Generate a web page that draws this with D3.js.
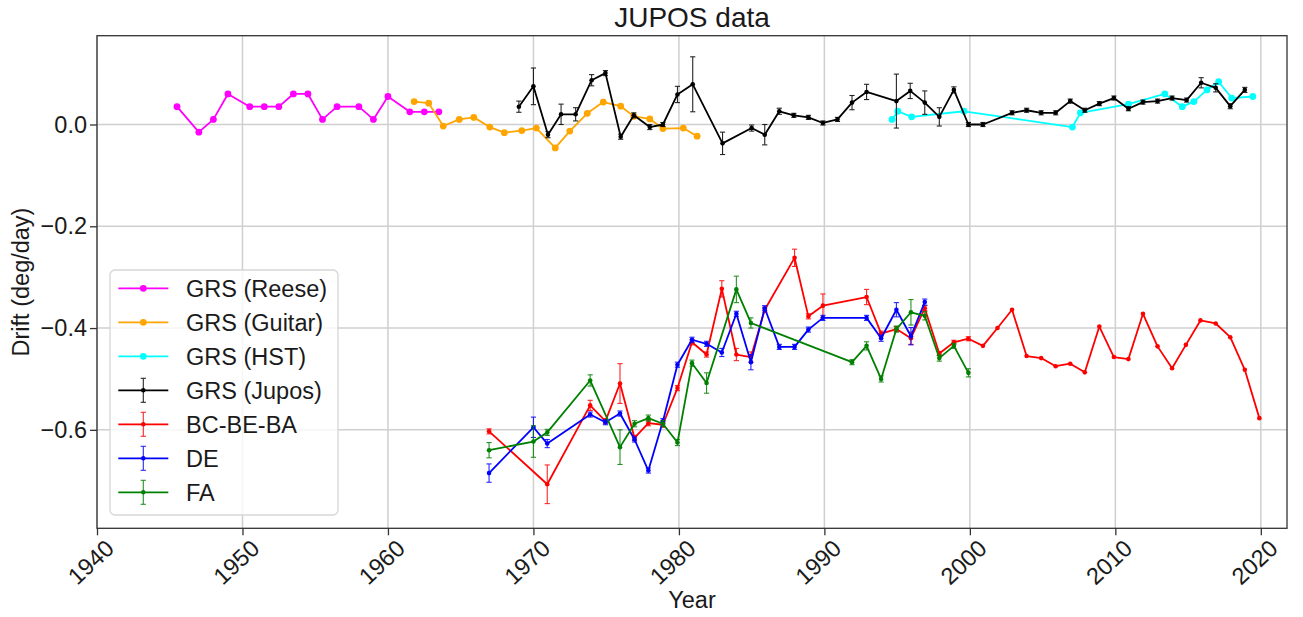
<!DOCTYPE html>
<html>
<head>
<meta charset="utf-8">
<script src="https://cdn.jsdelivr.net/npm/d3@7"></script>
<style>
  html, body { margin: 0; padding: 0; background: #fff; }
  svg text { font-family: "Liberation Sans", Arial, Helvetica, sans-serif; fill: #1a1a1a; }
</style>
</head>
<body>
<svg id="chart" width="1303" height="617"></svg>
<script>
// ---- Data: Great Red Spot and belt-feature drift rates (deg/day) ----
const reeseYears = [1945.5,1947,1948,1949,1950.5,1951.5,1952.5,1953.5,1954.5,1955.5,1956.5,1958,1959,1960,1961.5,1962.5,1963.5];
const reeseDrift = [0.035,-0.015,0.01,0.06,0.035,0.035,0.035,0.06,0.06,0.01,0.035,0.035,0.01,0.055,0.025,0.025,0.025];

const guitarYears = [1961.8,1962.8,1963.8,1964.9,1965.9,1967,1968,1969.2,1970.2,1971.5,1972.5,1973.7,1974.8,1976,1976.9,1978,1978.9,1980.3,1981.25];
const guitarDrift = [0.045,0.042,-0.003,0.01,0.014,-0.005,-0.016,-0.012,-0.007,-0.046,-0.013,0.022,0.044,0.036,0.016,0.011,-0.008,-0.007,-0.023];

const hstYears = [1994.65,1995.05,1996,1999.6,2007.05,2007.6,2010.9,2013.4,2014.6,2015.4,2016.3,2017.1,2018,2019.45];
const hstDrift = [0.010,0.026,0.015,0.026,-0.005,0.023,0.040,0.060,0.035,0.045,0.068,0.084,0.052,0.055];

const juposYears = [1969,1970,1971,1971.9,1972.9,1974,1974.95,1976,1976.9,1978,1978.9,1979.9,1980.95,1983,1985,1985.9,1986.9,1987.9,1988.9,1989.9,1990.9,1991.9,1992.9,1994.95,1995.9,1996.9,1997.9,1998.9,1999.9,2000.9,2002.9,2003.9,2004.9,2005.9,2006.9,2007.9,2008.9,2009.9,2010.9,2011.9,2012.9,2013.9,2014.9,2015.9,2016.9,2017.9,2018.9];
const juposDrift = [0.035,0.075,-0.020,0.020,0.020,0.087,0.101,-0.024,0.018,-0.005,0.0,0.059,0.079,-0.037,-0.007,-0.020,0.026,0.018,0.014,0.003,0.010,0.043,0.064,0.046,0.066,0.043,0.015,0.068,0.0,0.0,0.023,0.028,0.023,0.023,0.046,0.028,0.041,0.052,0.031,0.044,0.046,0.052,0.048,0.082,0.072,0.036,0.068];
const juposErr = [0.011,0.036,0.006,0.02,0.013,0.011,0.005,0.005,0.005,0.005,0.004,0.016,0.054,0.022,0.006,0.02,0.006,0.004,0.004,0.004,0.004,0.014,0.015,0.053,0.015,0.023,0.018,0.006,0.004,0.004,0.004,0.004,0.004,0.004,0.004,0.004,0.004,0.004,0.004,0.004,0.004,0.004,0.004,0.01,0.008,0.005,0.005];

const bcYears = [1966.95,1970.95,1973.9,1974.95,1975.95,1976.95,1977.9,1978.9,1979.9,1980.9,1981.9,1982.95,1983.95,1984.95,1985.9,1987.95,1988.9,1989.9,1992.9,1993.9,1994.95,1995.95,1996.9,1997.9,1998.9,1999.9,2000.9,2001.9,2002.9,2003.9,2004.9,2005.9,2006.9,2007.9,2008.9,2009.9,2010.9,2011.9,2012.9,2013.9,2014.85,2015.85,2016.9,2017.9,2018.9,2019.9];
const bcDrift = [-0.603,-0.707,-0.552,-0.583,-0.509,-0.616,-0.587,-0.590,-0.518,-0.428,-0.452,-0.323,-0.452,-0.457,-0.364,-0.262,-0.377,-0.356,-0.339,-0.411,-0.402,-0.420,-0.361,-0.450,-0.428,-0.421,-0.435,-0.400,-0.364,-0.455,-0.459,-0.475,-0.470,-0.487,-0.397,-0.457,-0.461,-0.372,-0.436,-0.479,-0.433,-0.385,-0.391,-0.418,-0.482,-0.577];
const bcErr = [0.005,0.038,0.01,0.005,0.039,0.005,0.005,0.005,0.005,0.005,0.005,0.016,0.012,0.01,0.005,0.017,0.005,0.023,0.015,0.005,0.005,0.012,0.005,0.004,0.004,0.004,0,0,0,0,0,0,0,0,0,0,0,0,0,0,0,0,0,0,0,0];

const deYears = [1966.95,1970,1970.95,1973.9,1974.95,1975.95,1976.95,1977.9,1978.9,1979.9,1980.9,1981.9,1982.95,1983.95,1984.95,1985.9,1986.9,1987.95,1988.9,1989.9,1992.9,1993.9,1994.95,1995.95,1996.9];
const deDrift = [-0.685,-0.595,-0.627,-0.570,-0.585,-0.568,-0.619,-0.680,-0.583,-0.472,-0.423,-0.431,-0.448,-0.372,-0.467,-0.361,-0.437,-0.437,-0.403,-0.380,-0.380,-0.420,-0.364,-0.416,-0.349];
const deErr = [0.018,0.02,0.008,0.005,0.005,0.005,0.005,0.005,0.005,0.005,0.005,0.005,0.008,0.005,0.015,0.005,0.005,0.005,0.005,0.005,0.005,0.006,0.014,0.017,0.006];

const faYears = [1966.95,1970,1970.95,1973.9,1975.95,1976.95,1977.9,1978.9,1979.9,1980.9,1981.9,1983.95,1984.95,1991.9,1992.9,1993.9,1994.95,1995.95,1996.9,1997.9,1998.9,1999.9];
const faDrift = [-0.640,-0.623,-0.605,-0.503,-0.634,-0.588,-0.577,-0.588,-0.625,-0.469,-0.508,-0.324,-0.39,-0.467,-0.435,-0.500,-0.402,-0.369,-0.376,-0.459,-0.435,-0.488];
const faErr = [0.015,0.031,0.006,0.011,0.034,0.006,0.006,0.006,0.006,0.006,0.02,0.026,0.01,0.005,0.008,0.006,0.006,0.025,0.008,0.006,0.005,0.008];

const xTicks = [1940,1950,1960,1970,1980,1990,2000,2010,2020];
const yTicks = [0.0,-0.2,-0.4,-0.6];

// ---- Layout ----
const svg = d3.select("#chart");
const plotL = 97, plotR = 1287, plotT = 35.7, plotB = 528.3;
const x = d3.scaleLinear().domain([1940, 2021.8]).range([plotL, plotR]);
const y = d3.scaleLinear().domain([-0.7935, 0.1745]).range([plotB, plotT]);
const FONT = 23.5;

svg.append("rect").attr("width", 1303).attr("height", 617).attr("fill", "#fff");

// clip for data marks
svg.append("clipPath").attr("id", "plotClip")
  .append("rect").attr("x", plotL).attr("y", plotT).attr("width", plotR - plotL).attr("height", plotB - plotT);

// grid
const grid = svg.append("g");
grid.selectAll("line.gx").data(xTicks).join("line")
  .attr("x1", d => x(d)).attr("x2", d => x(d)).attr("y1", plotT).attr("y2", plotB)
  .attr("stroke", "#cfcfcf").attr("stroke-width", 1.5);
grid.selectAll("line.gy").data(yTicks).join("line")
  .attr("y1", d => y(d)).attr("y2", d => y(d)).attr("x1", plotL).attr("x2", plotR)
  .attr("stroke", "#cfcfcf").attr("stroke-width", 1.5);

// axes
const xAxis = svg.append("g").attr("transform", `translate(0,${plotB})`)
  .call(d3.axisBottom(x).tickValues(xTicks).tickFormat(d3.format("d")).tickSize(7).tickSizeOuter(0));
xAxis.select(".domain").remove();
xAxis.selectAll(".tick line").attr("stroke", "#333").attr("stroke-width", 1.3);
xAxis.selectAll(".tick text")
  .attr("font-size", FONT).attr("text-anchor", "end").attr("dy", null).attr("y", 0)
  .attr("transform", "translate(18,22) rotate(-43)");

const yAxis = svg.append("g").attr("transform", `translate(${plotL},0)`)
  .call(d3.axisLeft(y).tickValues(yTicks).tickFormat(d => d3.format(".1f")(d).replace("-", "\u2212")).tickSize(7).tickSizeOuter(0));
yAxis.select(".domain").remove();
yAxis.selectAll(".tick line").attr("stroke", "#333").attr("stroke-width", 1.3);
yAxis.selectAll(".tick text").attr("font-size", FONT).attr("x", -10);

// frame
svg.append("rect").attr("x", plotL).attr("y", plotT).attr("width", plotR - plotL).attr("height", plotB - plotT)
  .attr("fill", "none").attr("stroke", "#333").attr("stroke-width", 1.3);

// labels
svg.append("text").attr("x", (plotL + plotR) / 2).attr("y", 27).attr("text-anchor", "middle")
  .attr("font-size", 28).text("JUPOS data");
svg.append("text").attr("x", (plotL + plotR) / 2).attr("y", 608).attr("text-anchor", "middle")
  .attr("font-size", FONT).text("Year");
svg.append("text").attr("transform", `translate(29,${(plotT + plotB) / 2}) rotate(-90)`)
  .attr("text-anchor", "middle").attr("font-size", FONT).text("Drift (deg/day)");

// ---- Series ----
const plot = svg.append("g").attr("clip-path", "url(#plotClip)");
const line = d3.line().x(d => x(d.t)).y(d => y(d.v));

function zipSeries(ts, vs, es) {
  return ts.map((t, i) => ({ t, v: vs[i], e: es ? es[i] : 0 }));
}

function drawDots(pts, color) {
  const g = plot.append("g");
  g.append("path").datum(pts).attr("d", line).attr("fill", "none")
    .attr("stroke", color).attr("stroke-width", 1.8).attr("stroke-linejoin", "round");
  g.selectAll("circle").data(pts).join("circle")
    .attr("cx", d => x(d.t)).attr("cy", d => y(d.v)).attr("r", 3.4).attr("fill", color);
}

function drawErr(pts, color) {
  const g = plot.append("g");
  g.append("path").datum(pts).attr("d", line).attr("fill", "none")
    .attr("stroke", color).attr("stroke-width", 1.8).attr("stroke-linejoin", "round");
  const withErr = pts.filter(d => d.e > 0);
  const bars = g.append("g").attr("stroke", color).attr("stroke-width", 1.1).attr("opacity", 0.85);
  bars.selectAll("line.v").data(withErr).join("line")
    .attr("x1", d => x(d.t)).attr("x2", d => x(d.t))
    .attr("y1", d => y(d.v - d.e)).attr("y2", d => y(d.v + d.e));
  bars.selectAll("line.c1").data(withErr).join("line")
    .attr("x1", d => x(d.t) - 2.6).attr("x2", d => x(d.t) + 2.6)
    .attr("y1", d => y(d.v + d.e)).attr("y2", d => y(d.v + d.e));
  bars.selectAll("line.c2").data(withErr).join("line")
    .attr("x1", d => x(d.t) - 2.6).attr("x2", d => x(d.t) + 2.6)
    .attr("y1", d => y(d.v - d.e)).attr("y2", d => y(d.v - d.e));
  g.selectAll("circle").data(pts).join("circle")
    .attr("cx", d => x(d.t)).attr("cy", d => y(d.v)).attr("r", 2.3).attr("fill", color);
}

const series = [
  { name: "GRS (Reese)", color: "#ff00ff", err: false, pts: zipSeries(reeseYears, reeseDrift) },
  { name: "GRS (Guitar)", color: "#ffa500", err: false, pts: zipSeries(guitarYears, guitarDrift) },
  { name: "GRS (HST)", color: "#00ffff", err: false, pts: zipSeries(hstYears, hstDrift) },
  { name: "GRS (Jupos)", color: "#000000", err: true, pts: zipSeries(juposYears, juposDrift, juposErr) },
  { name: "BC-BE-BA", color: "#ff0000", err: true, pts: zipSeries(bcYears, bcDrift, bcErr) },
  { name: "DE", color: "#0000ff", err: true, pts: zipSeries(deYears, deDrift, deErr) },
  { name: "FA", color: "#008000", err: true, pts: zipSeries(faYears, faDrift, faErr) }
];
series.forEach(s => s.err ? drawErr(s.pts, s.color) : drawDots(s.pts, s.color));

// ---- Legend ----
const lg = svg.append("g").attr("transform", "translate(110,270)");
lg.append("rect").attr("width", 228).attr("height", 245).attr("rx", 5).attr("ry", 5)
  .attr("fill", "rgba(255,255,255,0.8)").attr("stroke", "#d6d6d6").attr("stroke-width", 1.3);
series.forEach((s, i) => {
  const cy = 18.3 + i * 34;
  const row = lg.append("g").attr("transform", `translate(0,${cy})`);
  row.append("line").attr("x1", 8.3).attr("x2", 58.3).attr("y1", 0).attr("y2", 0)
    .attr("stroke", s.color).attr("stroke-width", 1.8);
  if (s.err) {
    const eb = row.append("g").attr("stroke", s.color).attr("stroke-width", 1.1).attr("opacity", 0.85);
    eb.append("line").attr("x1", 33.3).attr("x2", 33.3).attr("y1", -12).attr("y2", 12);
    eb.append("line").attr("x1", 30.7).attr("x2", 35.9).attr("y1", -12).attr("y2", -12);
    eb.append("line").attr("x1", 30.7).attr("x2", 35.9).attr("y1", 12).attr("y2", 12);
    row.append("circle").attr("cx", 33.3).attr("cy", 0).attr("r", 2.3).attr("fill", s.color);
  } else {
    row.append("circle").attr("cx", 33.3).attr("cy", 0).attr("r", 3.4).attr("fill", s.color);
  }
  row.append("text").attr("x", 76).attr("y", 8.3).attr("font-size", FONT).text(s.name);
});
</script>
</body>
</html>
